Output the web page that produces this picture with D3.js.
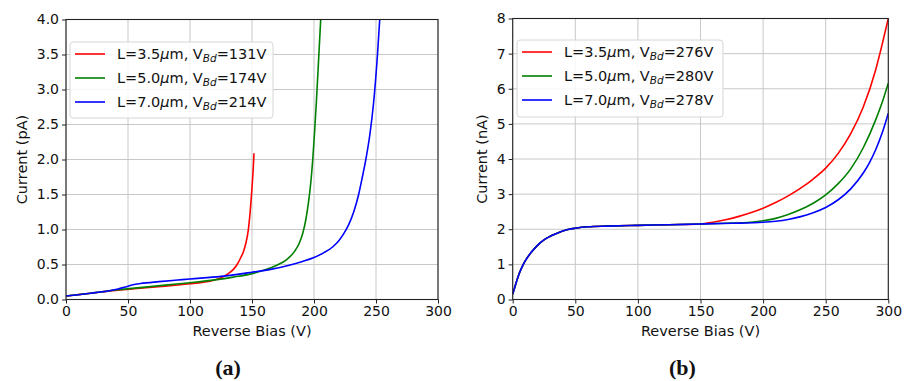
<!DOCTYPE html>
<html>
<head>
<meta charset="utf-8">
<script src="https://cdn.jsdelivr.net/npm/d3@7"></script>
<style>
  body { margin: 0; background: #fff; }
  svg text { font-family: "DejaVu Sans", sans-serif; fill: #111; }
</style>
</head>
<body>
<svg id="fig" width="904" height="381"></svg>
<script>
// ---- shared axis values ----
const biasTicks = [0, 50, 100, 150, 200, 250, 300];
const pATicks = [0, 0.5, 1, 1.5, 2, 2.5, 3, 3.5, 4];
const nATicks = [0, 1, 2, 3, 4, 5, 6, 7, 8];

// ---- legend values ----
const gapLengths = ["3.5", "5.0", "7.0"];
const breakdownA = [131, 174, 214];
const breakdownB = [276, 280, 278];
const seriesColors = ["#ff0000", "#008000", "#0000ff"];

// ---- (a) current in pA vs reverse bias ----
const biasA35 = [0, 20, 40, 60, 80, 100, 110, 120, 125, 130, 135, 138, 141, 143, 145, 147, 148.5, 150, 151, 151.6];
const currA35 = [0.05, 0.09, 0.13, 0.16, 0.19, 0.225, 0.245, 0.28, 0.31, 0.36, 0.43, 0.5, 0.6, 0.68, 0.8, 0.99, 1.25, 1.6, 1.87, 2.09];

const biasA50 = [0, 20, 40, 60, 80, 100, 120, 135, 150, 160, 170, 178, 184, 188, 191, 193.5, 195.5, 197.3, 199, 200.5, 202, 203.5, 205.4];
const currA50 = [0.05, 0.09, 0.135, 0.17, 0.205, 0.24, 0.28, 0.32, 0.37, 0.42, 0.49, 0.57, 0.68, 0.8, 0.95, 1.15, 1.38, 1.65, 2.0, 2.4, 2.85, 3.35, 4.0];

const biasA70 = [0, 20, 35, 42, 48, 54, 60, 75, 90, 100, 125, 150, 165, 180, 190, 200, 208, 215, 220, 224, 228, 232, 236, 239, 242, 245, 248, 251.2, 253];
const currA70 = [0.05, 0.09, 0.125, 0.15, 0.18, 0.21, 0.228, 0.255, 0.278, 0.293, 0.33, 0.39, 0.43, 0.49, 0.54, 0.6, 0.67, 0.75, 0.84, 0.94, 1.07, 1.25, 1.5, 1.75, 2.02, 2.35, 2.8, 3.5, 4.0];

// ---- (b) current in nA vs reverse bias ----
const biasRise = [0, 2.5, 5, 7.5, 10, 15, 20, 25, 30, 35, 40, 45, 50, 60, 75, 100, 125, 150];
const currRise = [0.15, 0.45, 0.72, 0.93, 1.1, 1.35, 1.55, 1.7, 1.8, 1.88, 1.95, 2.0, 2.03, 2.07, 2.09, 2.11, 2.13, 2.15];

const biasB35 = [160, 170, 180, 190, 200, 210, 220, 230, 240, 250, 260, 270, 280, 290, 295, 300];
const currB35 = [2.2, 2.27, 2.36, 2.47, 2.6, 2.76, 2.95, 3.17, 3.43, 3.74, 4.16, 4.72, 5.48, 6.55, 7.25, 8.0];

const biasB50 = [170, 190, 200, 210, 220, 230, 240, 250, 260, 270, 280, 290, 295, 300];
const currB50 = [2.17, 2.2, 2.24, 2.31, 2.42, 2.56, 2.74, 2.98, 3.3, 3.72, 4.32, 5.12, 5.6, 6.16];

const biasB70 = [175, 200, 210, 220, 230, 240, 250, 260, 270, 280, 285, 290, 295, 300];
const currB70 = [2.17, 2.2, 2.23, 2.28, 2.36, 2.47, 2.62, 2.84, 3.15, 3.6, 3.9, 4.27, 4.73, 5.3];

const svg = d3.select("#fig");
svg.append("rect").attr("width", 904).attr("height", 381).attr("fill", "#fff");

function zip(xs, ys) { return xs.map((x, i) => ({ v: x, i: ys[i] })); }

function drawPanel(cfg) {
  const x = d3.scaleLinear().domain([0, 300]).range([cfg.left, cfg.right]);
  const y = d3.scaleLinear().domain(cfg.yDomain).range([cfg.bottom, cfg.top]);
  const g = svg.append("g");

  // grid
  g.append("g").selectAll("line").data(biasTicks).join("line")
    .attr("x1", d => x(d)).attr("x2", d => x(d))
    .attr("y1", cfg.top).attr("y2", cfg.bottom)
    .attr("stroke", "#c8c8c8").attr("stroke-width", 1);
  g.append("g").selectAll("line").data(cfg.yTicks).join("line")
    .attr("x1", cfg.left).attr("x2", cfg.right)
    .attr("y1", d => y(d)).attr("y2", d => y(d))
    .attr("stroke", "#c8c8c8").attr("stroke-width", 1);

  // curves
  const clipId = "clip" + cfg.id;
  svg.append("clipPath").attr("id", clipId).append("rect")
    .attr("x", cfg.left).attr("y", cfg.top)
    .attr("width", cfg.right - cfg.left).attr("height", cfg.bottom - cfg.top);
  const line = d3.line().x(d => x(d.v)).y(d => y(d.i)).curve(d3.curveMonotoneX);
  const cg = g.append("g").attr("clip-path", `url(#${clipId})`);
  cfg.series.forEach((s, k) => {
    cg.append("path").datum(s)
      .attr("d", line)
      .attr("fill", "none")
      .attr("stroke", seriesColors[k])
      .attr("stroke-width", 1.6);
  });

  // axes
  const xAxis = d3.axisBottom(x).tickValues(biasTicks).tickSize(4).tickPadding(3).tickFormat(d3.format("d"));
  const yAxis = d3.axisLeft(y).tickValues(cfg.yTicks).tickSize(4).tickPadding(3).tickFormat(cfg.yFormat);
  const ax = g.append("g").attr("transform", `translate(0,${cfg.bottom})`).call(xAxis);
  const ay = g.append("g").attr("transform", `translate(${cfg.left},0)`).call(yAxis);
  [ax, ay].forEach(a => {
    a.select(".domain").remove();
    a.selectAll("line").attr("stroke", "#222").attr("stroke-width", 1);
    a.selectAll("text").style("font-size", "14px").attr("fill", "#111")
      .style("font-family", '"DejaVu Sans", sans-serif');
  });

  // frame
  g.append("rect")
    .attr("x", cfg.left).attr("y", cfg.top)
    .attr("width", cfg.right - cfg.left).attr("height", cfg.bottom - cfg.top)
    .attr("fill", "none").attr("stroke", "#222").attr("stroke-width", 1.1);

  // axis labels
  g.append("text")
    .attr("x", (cfg.left + cfg.right) / 2).attr("y", cfg.bottom + 36)
    .attr("text-anchor", "middle").style("font-size", "14.5px")
    .text("Reverse Bias (V)");
  g.append("text")
    .attr("transform", `translate(${cfg.yLabelX},${(cfg.top + cfg.bottom) / 2}) rotate(-90)`)
    .attr("text-anchor", "middle").style("font-size", "14.5px")
    .text(cfg.yLabel);

  // legend
  const L = cfg.legend;
  const lg = g.append("g");
  lg.append("rect")
    .attr("x", L.x).attr("y", L.y).attr("width", L.w).attr("height", L.h)
    .attr("rx", 3).attr("fill", "#fff").attr("fill-opacity", 0.85)
    .attr("stroke", "#d6d6d6").attr("stroke-width", 1);
  cfg.breakdown.forEach((vbd, k) => {
    const ry = L.y + 12 + k * 24;
    lg.append("line")
      .attr("x1", L.x + 5).attr("x2", L.x + 35)
      .attr("y1", ry).attr("y2", ry)
      .attr("stroke", seriesColors[k]).attr("stroke-width", 1.6);
    const t = lg.append("text")
      .attr("x", L.x + L.textDx).attr("y", ry + 5)
      .style("font-size", "14.5px");
    t.append("tspan").text(`L=${gapLengths[k]}`);
    t.append("tspan").style("font-style", "italic").text("\u03bc");
    t.append("tspan").text("m, V");
    t.append("tspan").attr("dy", 3).style("font-style", "italic").style("font-size", "10.5px").text("Bd");
    t.append("tspan").attr("dy", -3).text(`=${vbd}V`);
  });

  // panel caption
  svg.append("text")
    .attr("x", cfg.captionX).attr("y", 375)
    .attr("text-anchor", "middle")
    .style("font-family", '"Liberation Serif", serif')
    .style("font-weight", "bold").style("font-size", "22px")
    .text(cfg.caption);
}

drawPanel({
  id: "a", left: 66, right: 438, top: 19.5, bottom: 299.5,
  yDomain: [0, 4], yTicks: pATicks, yFormat: d3.format(".1f"),
  yLabel: "Current (pA)", yLabelX: 27,
  series: [zip(biasA35, currA35), zip(biasA50, currA50), zip(biasA70, currA70)],
  breakdown: breakdownA,
  legend: { x: 70, y: 42, w: 203, h: 76, textDx: 47 },
  caption: "(a)", captionX: 228
});

drawPanel({
  id: "b", left: 512.7, right: 888.3, top: 18.5, bottom: 299.5,
  yDomain: [0, 8], yTicks: nATicks, yFormat: d3.format("d"),
  yLabel: "Current (nA)", yLabelX: 487,
  series: [
    zip(biasRise.concat(biasB35), currRise.concat(currB35)),
    zip(biasRise.concat(biasB50), currRise.concat(currB50)),
    zip(biasRise.concat(biasB70), currRise.concat(currB70))
  ],
  breakdown: breakdownB,
  legend: { x: 517, y: 40, w: 206, h: 77, textDx: 47 },
  caption: "(b)", captionX: 682.5
});
</script>
</body>
</html>
